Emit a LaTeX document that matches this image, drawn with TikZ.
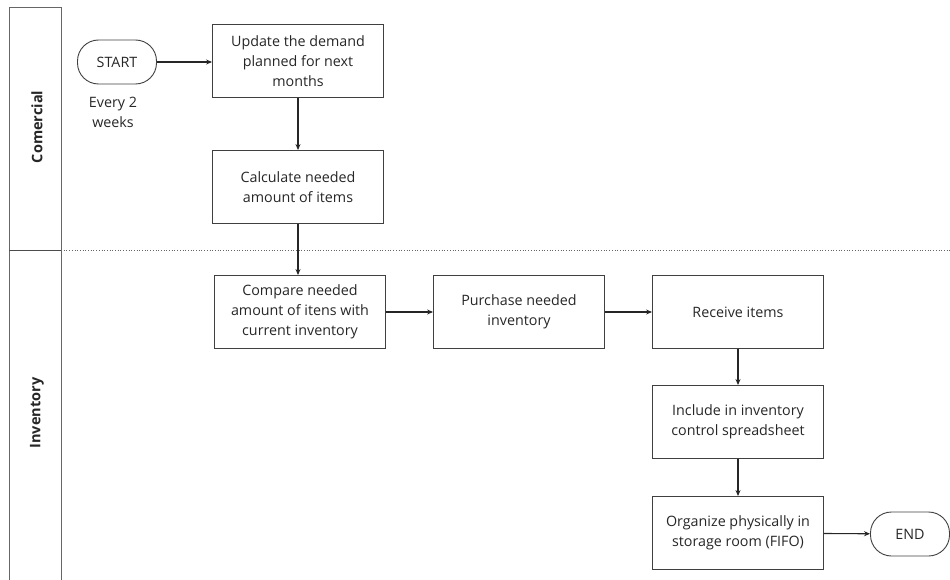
\documentclass[tikz,border=0pt]{standalone}
\usepackage{fontspec}
\setmainfont{Open Sans}
\usetikzlibrary{arrows.meta}
\begin{document}
\begin{tikzpicture}[
		x=1pt, y=-1pt,
		every node/.style={font=\fontsize{14.3}{20}\selectfont, text=black!85},
		box/.style={rectangle, draw=black!75, line width=0.9pt, align=center, minimum width=171pt, minimum height=73pt, inner sep=2pt},
		terminal/.style={rectangle, rounded corners=21pt, draw=black!75, line width=0.9pt, minimum width=79pt, minimum height=44pt},
		lanename/.style={rotate=90, font=\fontsize{14.5}{16}\selectfont\bfseries},
		flow/.style={-{Stealth[length=6pt, width=5pt]}, line width=1.1pt, black!85}
	]
	\useasboundingbox (0,0) rectangle (950,580);
	% lanes
	\draw[black!60, line width=0.9pt] (9,580) -- (9,7) -- (61,7) -- (61,580);
	\draw[black!70, line width=0.9pt] (9,250) -- (61,250);
	\draw[black!60, dotted, line width=0.7pt] (61,250) -- (950,250);
	\node[lanename] (comercial) at (37,127) {Comercial};
	\node[lanename] (inventory) at (37,413) {Inventory};
	% nodes
	\node[terminal] (start) at (117,62) {START};
	\node[align=center] (freq) at (113,112) {Every 2\\weeks};
	\node[box] (update) at (298,61) {Update the demand\\planned for next\\months};
	\node[box] (calc) at (298,187) {Calculate needed\\amount of items};
	\node[box] (compare) at (300,312) {Compare needed\\amount of itens with\\current inventory};
	\node[box] (purchase) at (519,312) {Purchase needed\\inventory};
	\node[box] (receive) at (738,312) {Receive items};
	\node[box] (include) at (738,422) {Include in inventory\\control spreadsheet};
	\node[box] (organize) at (738,533) {Organize physically in\\storage room (FIFO)};
	\node[terminal] (end) at (910,534) {END};
	% connectors
	\draw[flow] (start) -- (update.west |- start);
	\draw[flow] (update) -- (calc);
	\draw[flow] (calc.south) -- (calc.south |- compare.north);
	\draw[flow] (compare) -- (purchase);
	\draw[flow] (purchase) -- (receive);
	\draw[flow] (receive) -- (include);
	\draw[flow] (include) -- (organize);
	\draw[flow] (organize) -- (end);
\end{tikzpicture}
\end{document}
